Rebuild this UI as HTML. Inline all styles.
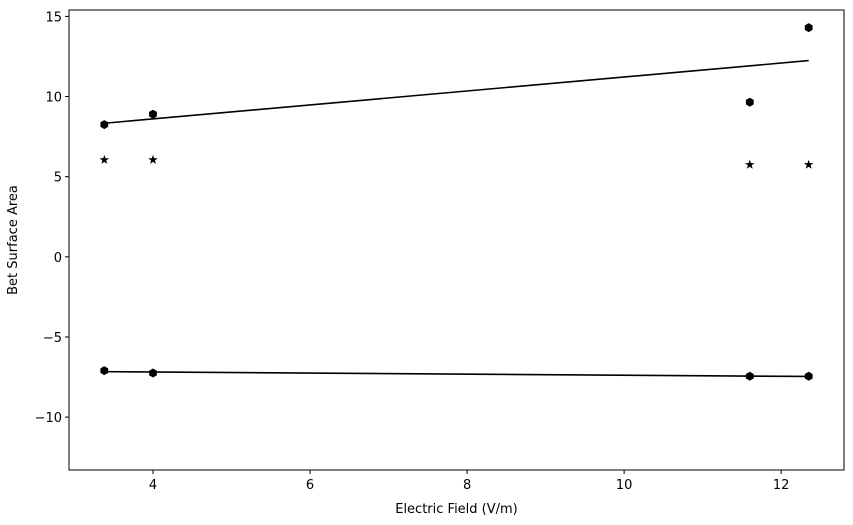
<!DOCTYPE html>
<html><head><meta charset="utf-8"><style>
html,body{margin:0;padding:0;background:#fff;}
svg{display:block;font-family:"DejaVu Sans","Liberation Sans",sans-serif;}
</style></head><body>
<svg id="chart" width="853" height="525" viewBox="0 0 853 525">
<rect x="0" y="0" width="853" height="525" fill="#fff"/>
<g id="marks"></g>
<g id="axes"></g>
</svg>
<script>
const xValues = [3.38, 4.0, 11.6, 12.35];
const upperHex = [8.25, 8.9, 9.65, 14.3];
const stars = [6.05, 6.05, 5.75, 5.75];
const lowerHex = [-7.1, -7.25, -7.45, -7.45];
const xTicks = [4, 6, 8, 10, 12];
const yTicks = [-10, -5, 0, 5, 10, 15];
const yTickLabels = ["\u221210", "\u22125", "0", "5", "10", "15"];

const L = 69, R = 844, T = 10, B = 470;
const xMin = 2.93, xMax = 12.8, yMin = -13.3, yMax = 15.4;
const sx = v => L + (v - xMin) / (xMax - xMin) * (R - L);
const sy = v => B - (v - yMin) / (yMax - yMin) * (B - T);
const NS = "http://www.w3.org/2000/svg";
const marks = document.getElementById('marks');
const axes = document.getElementById('axes');
function mk(tag, attrs, parent) {
  const e = document.createElementNS(NS, tag);
  for (const k in attrs) e.setAttribute(k, attrs[k]);
  parent.appendChild(e);
  return e;
}
function fit(xs, ys) {
  const n = xs.length;
  const mx = xs.reduce((a, b) => a + b) / n, my = ys.reduce((a, b) => a + b) / n;
  let sxy = 0, sxx = 0;
  for (let i = 0; i < n; i++) { sxy += (xs[i] - mx) * (ys[i] - my); sxx += (xs[i] - mx) ** 2; }
  const m = sxy / sxx; return [m, my - m * mx];
}
function hexPts(cx, cy, r) {
  const p = [];
  for (let i = 0; i < 6; i++) { const a = Math.PI / 6 + i * Math.PI / 3; p.push((cx + r * Math.cos(a)).toFixed(1) + "," + (cy + r * Math.sin(a)).toFixed(1)); }
  return p.join(" ");
}
function starPts(cx, cy, r) {
  const p = [];
  for (let i = 0; i < 10; i++) { const a = -Math.PI / 2 + i * Math.PI / 5; const rr = i % 2 ? r * 0.4 : r; p.push((cx + rr * Math.cos(a)).toFixed(1) + "," + (cy + rr * Math.sin(a)).toFixed(1)); }
  return p.join(" ");
}
[[upperHex, 'upper-fit-line'], [lowerHex, 'lower-fit-line']].forEach(([ys, name]) => {
  const [m, b] = fit(xValues, ys);
  const x0 = Math.min(...xValues), x1 = Math.max(...xValues);
  const ln = mk('line', {x1: sx(x0), y1: sy(m * x0 + b), x2: sx(x1), y2: sy(m * x1 + b), stroke: '#000', 'stroke-width': 1.6}, marks);
  
  
});
xValues.forEach((x, i) => {
  const h1 = mk('polygon', {points: hexPts(sx(x), sy(upperHex[i]), 4.5), fill: '#000'}, marks);
  
  
  const h2 = mk('polygon', {points: hexPts(sx(x), sy(lowerHex[i]), 4.5), fill: '#000'}, marks);
  
  
  const s = mk('polygon', {points: starPts(sx(x), sy(stars[i]), 5), fill: '#000'}, marks);
  
  
});
const frame = mk('rect', {x: L, y: T, width: R - L, height: B - T, fill: 'none', stroke: '#000', 'stroke-width': 1}, axes);


xTicks.forEach(t => {
  const X = sx(t);
  mk('line', {x1: X, y1: B, x2: X, y2: B + 4, stroke: '#000'}, axes);
  const tx = mk('text', {x: X, y: B + 19, 'text-anchor': 'middle', 'font-size': 13}, axes);
  tx.textContent = t;
  
  
});
yTicks.forEach((t, i) => {
  const Y = sy(t);
  mk('line', {x1: L - 4, y1: Y, x2: L, y2: Y, stroke: '#000'}, axes);
  const tx = mk('text', {x: L - 7, y: Y + 5, 'text-anchor': 'end', 'font-size': 13}, axes);
  tx.textContent = yTickLabels[i];
  
  
});
const xt = mk('text', {x: (L + R) / 2, y: 513, 'text-anchor': 'middle', 'font-size': 13}, axes);
xt.textContent = 'Electric Field (V/m)';


const yt = mk('text', {x: 17, y: (T + B) / 2, 'text-anchor': 'middle', 'font-size': 13, transform: `rotate(-90 17 ${(T + B) / 2})`}, axes);
yt.textContent = 'Bet Surface Area';


</script>
</body></html>
